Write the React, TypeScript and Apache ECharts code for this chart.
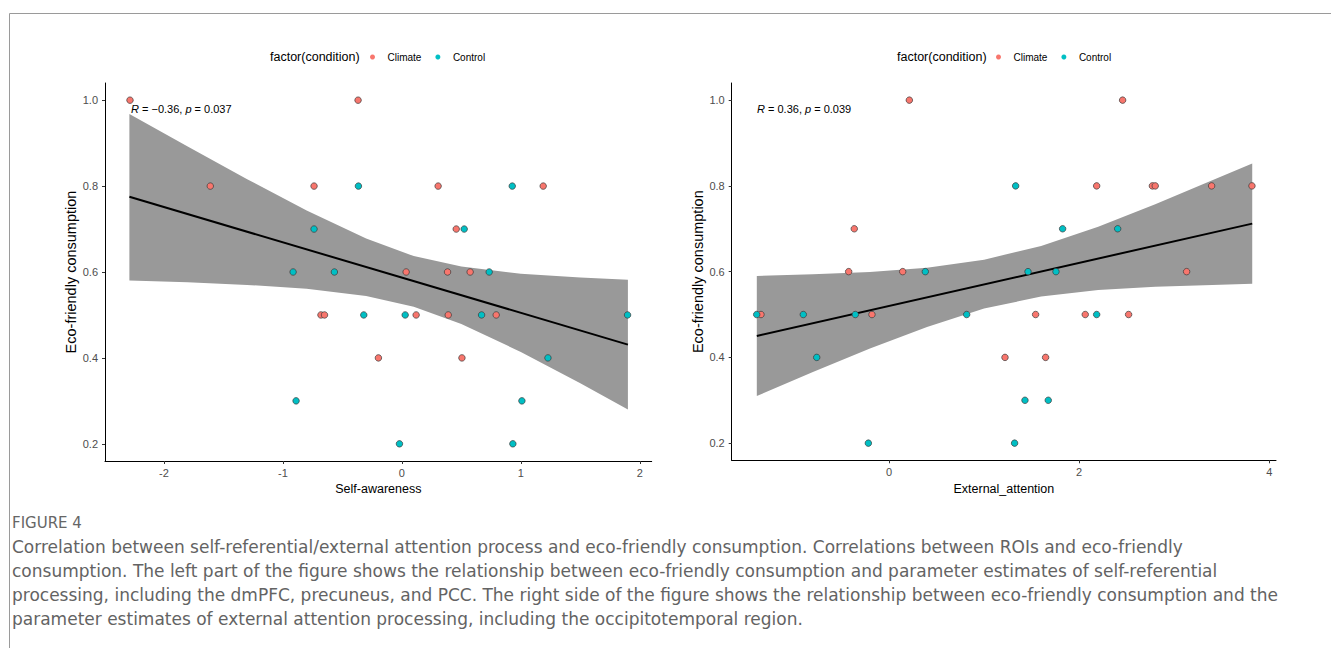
import React, { useEffect, useRef } from "react";
import * as echarts from "echarts";

// ---------- data ----------
const conditions = ["Climate", "Control"];
const tickY = [0.2, 0.4, 0.6, 0.8, 1.0];
const tickXLeft = [-2, -1, 0, 1, 2];
const tickXRight = [0, 2, 4];

// Left panel: Self-awareness vs Eco-friendly consumption
const selfClimateX = [-2.285, -1.61, -0.738, -0.368, 0.305, 1.188, 0.457, 0.036, 0.384, 0.574, -0.68, -0.65, 0.12, 0.39, 0.793, -0.197, 0.505];
const selfClimateY = [1.0, 0.8, 0.8, 1.0, 0.8, 0.8, 0.7, 0.6, 0.6, 0.6, 0.5, 0.5, 0.5, 0.5, 0.5, 0.4, 0.4];
const selfControlX = [-0.365, -0.738, -0.914, -0.567, 0.928, 0.524, 0.734, -0.889, -0.32, 0.028, 0.67, 1.897, 1.228, 1.009, -0.02, 0.933];
const selfControlY = [0.8, 0.7, 0.6, 0.6, 0.8, 0.7, 0.6, 0.3, 0.5, 0.5, 0.5, 0.5, 0.4, 0.3, 0.2, 0.2];
const selfFitX = [-2.29, 1.9];
const selfFitY = [0.775, 0.431];
const selfBandX = [-2.29, -1.8, -1.3, -0.8, -0.3, 0.1, 0.5, 1.0, 1.5, 1.9];
const selfBandLo = [0.580, 0.576, 0.570, 0.561, 0.544, 0.519, 0.479, 0.414, 0.341, 0.280];
const selfBandHi = [0.968, 0.892, 0.816, 0.743, 0.678, 0.637, 0.613, 0.596, 0.587, 0.582];

// Right panel: External_attention vs Eco-friendly consumption
const extClimateX = [0.214, -0.365, -0.424, 0.144, 2.457, 2.184, 2.77, 2.8, 3.393, 3.817, 3.13, -1.346, -0.179, 1.542, 2.064, 2.52, 1.22, 1.647];
const extClimateY = [1.0, 0.7, 0.6, 0.6, 1.0, 0.8, 0.8, 0.8, 0.8, 0.8, 0.6, 0.5, 0.5, 0.5, 0.5, 0.5, 0.4, 0.4];
const extControlX = [0.382, 1.332, 1.826, 2.405, 1.462, 1.756, -1.391, -0.901, -0.354, 0.817, 2.184, -0.76, 1.43, 1.675, -0.217, 1.321];
const extControlY = [0.6, 0.8, 0.7, 0.7, 0.6, 0.6, 0.5, 0.5, 0.5, 0.5, 0.5, 0.4, 0.3, 0.3, 0.2, 0.2];
const extFitX = [-1.39, 3.82];
const extFitY = [0.450, 0.712];
const extBandX = [-1.39, -0.8, -0.2, 0.4, 1.0, 1.6, 2.2, 2.8, 3.4, 3.82];
const extBandLo = [0.310, 0.366, 0.421, 0.471, 0.514, 0.542, 0.557, 0.565, 0.569, 0.572];
const extBandHi = [0.590, 0.594, 0.599, 0.609, 0.628, 0.660, 0.705, 0.757, 0.813, 0.852];

const captionTitle = "FIGURE 4";
const captionLines = [
  "Correlation between self-referential/external attention process and eco-friendly consumption. Correlations between ROIs and eco-friendly",
  "consumption. The left part of the figure shows the relationship between eco-friendly consumption and parameter estimates of self-referential",
  "processing, including the dmPFC, precuneus, and PCC. The right side of the figure shows the relationship between eco-friendly consumption and the",
  "parameter estimates of external attention processing, including the occipitotemporal region.",
];

// ---------- styling ----------
const COLORS: Record<string, string> = { Climate: "#F8766D", Control: "#00BFC4" };
const FONT = "'Liberation Sans', Arial, Helvetica, sans-serif";
const CAPTION_FONT = "'DejaVu Sans', 'Open Sans', sans-serif";

const zip = (xs: number[], ys: number[]) => xs.map((x, i) => [x, ys[i]]);

function makeXAxis(gridIndex: number, min: number, max: number, ticks: number[], name: string) {
  return {
    type: "value",
    gridIndex,
    min,
    max,
    name,
    nameLocation: "middle",
    nameGap: 20,
    nameTextStyle: { fontFamily: FONT, fontSize: 12.5, color: "#000" },
    axisLine: { show: true, onZero: false, lineStyle: { color: "#000", width: 1 } },
    axisTick: { show: true, length: 3, customValues: ticks, lineStyle: { color: "#333" } },
    axisLabel: {
      customValues: ticks,
      formatter: (v: number) => `${v}`,
      color: "#4d4d4d",
      fontFamily: FONT,
      fontSize: 11,
      margin: 6,
    },
    splitLine: { show: false },
  };
}

function makeYAxis(gridIndex: number) {
  return {
    type: "value",
    gridIndex,
    min: 0.16,
    max: 1.04,
    name: "Eco-friendly consumption",
    nameLocation: "middle",
    nameGap: 25,
    nameTextStyle: { fontFamily: FONT, fontSize: 14.5, color: "#000" },
    axisLine: { show: true, onZero: false, lineStyle: { color: "#000", width: 1 } },
    axisTick: { show: true, length: 3, customValues: tickY, lineStyle: { color: "#333" } },
    axisLabel: {
      customValues: tickY,
      formatter: (v: number) => v.toFixed(1),
      color: "#4d4d4d",
      fontFamily: FONT,
      fontSize: 11,
      margin: 7,
    },
    splitLine: { show: false },
  };
}

function bandSeries(idx: number, xs: number[], lo: number[], hi: number[]) {
  return {
    type: "custom",
    xAxisIndex: idx,
    yAxisIndex: idx,
    silent: true,
    z: 1,
    data: xs.map((x, i) => [x, lo[i], hi[i]]),
    encode: { x: 0, y: [1, 2] },
    renderItem: (params: any, api: any) => {
      if (params.dataIndex !== 0) return null;
      const upper = xs.map((x, i) => api.coord([x, hi[i]]));
      const lower = xs.map((x, i) => api.coord([x, lo[i]])).reverse();
      return {
        type: "polygon",
        shape: { points: upper.concat(lower) },
        style: { fill: "#999999", stroke: null },
      };
    },
  };
}

function fitSeries(idx: number, xs: number[], ys: number[]) {
  return {
    type: "line",
    xAxisIndex: idx,
    yAxisIndex: idx,
    data: zip(xs, ys),
    symbol: "none",
    silent: true,
    z: 3,
    lineStyle: { color: "#000", width: 2 },
  };
}

function pointSeries(idx: number, name: string, xs: number[], ys: number[]) {
  return {
    type: "scatter",
    name,
    xAxisIndex: idx,
    yAxisIndex: idx,
    data: zip(xs, ys),
    symbol: "circle",
    symbolSize: 6.5,
    z: 4,
    itemStyle: { color: COLORS[name], borderColor: "#3a3a3a", borderWidth: 0.7, opacity: 1 },
  };
}

function legendAt(left: number) {
  return {
    left,
    top: 47,
    orient: "horizontal",
    data: conditions,
    icon: "circle",
    itemWidth: 20,
    itemHeight: 5,
    itemGap: 14,
    selectedMode: false,
    itemStyle: { borderWidth: 0 },
    textStyle: { fontFamily: FONT, fontSize: 10, color: "#000" },
  };
}

export default function App() {
  const ref = useRef<HTMLDivElement>(null);

  useEffect(() => {
    if (!ref.current) return;
    const chart = echarts.init(ref.current, undefined, { renderer: "svg" });

    const captionGraphics = captionLines.map((line, i) => ({
      type: "text",
      left: 12,
      top: 538 + i * 24,
      style: { text: line, fontFamily: CAPTION_FONT, fontSize: 17, fill: "#636363" },
    }));

    const option = {
      animation: false,
      backgroundColor: "#ffffff",
      grid: [
        { left: 105, top: 83, width: 546.7, height: 378, containLabel: false },
        { left: 731.7, top: 83, width: 544.3, height: 377.3, containLabel: false },
      ],
      xAxis: [
        makeXAxis(0, -2.495, 2.1, tickXLeft, "Self-awareness"),
        makeXAxis(1, -1.654, 4.07, tickXRight, "External_attention"),
      ],
      yAxis: [makeYAxis(0), makeYAxis(1)],
      legend: [legendAt(365), legendAt(991)],
      series: [
        bandSeries(0, selfBandX, selfBandLo, selfBandHi),
        fitSeries(0, selfFitX, selfFitY),
        pointSeries(0, "Climate", selfClimateX, selfClimateY),
        pointSeries(0, "Control", selfControlX, selfControlY),
        bandSeries(1, extBandX, extBandLo, extBandHi),
        fitSeries(1, extFitX, extFitY),
        pointSeries(1, "Climate", extClimateX, extClimateY),
        pointSeries(1, "Control", extControlX, extControlY),
      ],
      graphic: [
        { type: "line", shape: { x1: 9.5, y1: 13.5, x2: 1331, y2: 13.5 }, style: { stroke: "#9a9a9a", lineWidth: 1 } },
        { type: "line", shape: { x1: 9.5, y1: 13.5, x2: 9.5, y2: 648 }, style: { stroke: "#9a9a9a", lineWidth: 1 } },
        {
          type: "text",
          left: 270,
          top: 50,
          style: { text: "factor(condition)", fontFamily: FONT, fontSize: 12.5, fill: "#000" },
        },
        {
          type: "text",
          left: 897,
          top: 50,
          style: { text: "factor(condition)", fontFamily: FONT, fontSize: 12.5, fill: "#000" },
        },
        {
          type: "text",
          left: 131,
          top: 103,
          style: {
            text: "{i|R} = −0.36, {i|p} = 0.037",
            rich: { i: { fontStyle: "italic", fontFamily: FONT, fontSize: 11 } },
            fontFamily: FONT,
            fontSize: 11,
            fill: "#000",
          },
        },
        {
          type: "text",
          left: 757,
          top: 103,
          style: {
            text: "{i|R} = 0.36, {i|p} = 0.039",
            rich: { i: { fontStyle: "italic", fontFamily: FONT, fontSize: 11 } },
            fontFamily: FONT,
            fontSize: 11,
            fill: "#000",
          },
        },
        {
          type: "text",
          left: 12,
          top: 515,
          style: { text: captionTitle, fontFamily: CAPTION_FONT, fontSize: 15, fill: "#666666" },
        },
        ...captionGraphics,
      ],
    };

    chart.setOption(option as any);
    return () => chart.dispose();
  }, []);

  return (
    <div
      ref={ref}
      style={{ position: "absolute", left: 0, top: 0, width: 1331, height: 648 }}
    />
  );
}
